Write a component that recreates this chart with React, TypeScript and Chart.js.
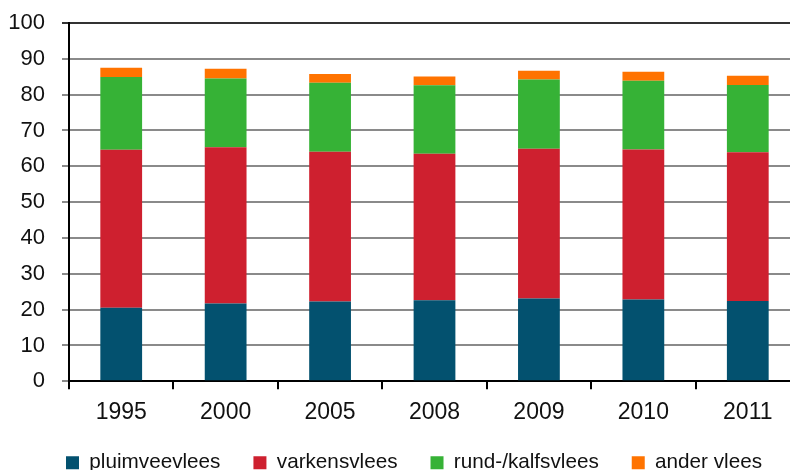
import React, { useEffect, useRef } from "react";
import { Chart, registerables } from "chart.js";

Chart.register(...registerables);

const categories = ["1995", "2000", "2005", "2008", "2009", "2010", "2011"];
const pluimvee = [20.5, 21.7, 22.3, 22.6, 23.1, 22.8, 22.4];
const varkens = [44.1, 43.6, 41.8, 40.9, 41.8, 41.9, 41.5];
const rundKalf = [20.3, 19.2, 19.2, 19.1, 19.3, 19.2, 18.8];
const ander = [2.6, 2.7, 2.5, 2.5, 2.5, 2.5, 2.6];
const yTicks = [0, 10, 20, 30, 40, 50, 60, 70, 80, 90, 100];

const FONT = "'Liberation Sans', Arial, sans-serif";

const legendShift = {
  id: "legendShift",
  afterLayout(chart: any) {
    if (chart.legend) {
      chart.legend.left += 33;
      chart.legend.right += 33;
    }
  },
};

export default function App() {
  const ref = useRef<HTMLCanvasElement | null>(null);

  useEffect(() => {
    document.body.style.margin = "0";
    document.body.style.overflow = "hidden";
    const canvas = ref.current!;
    const mk = (label: string, data: number[], color: string) => ({
      label,
      data,
      backgroundColor: color,
      borderWidth: 0,
      barPercentage: 0.4,
      categoryPercentage: 1,
    });
    const chart = new Chart(canvas, {
      type: "bar",
      data: {
        labels: categories,
        datasets: [
          mk("pluimveevlees", pluimvee, "#03516F"),
          mk("varkensvlees", varkens, "#CE202F"),
          mk("rund-/kalfsvlees", rundKalf, "#36B236"),
          mk("ander vlees", ander, "#FF7300"),
        ],
      },
      plugins: [legendShift],
      options: {
        animation: false,
        responsive: false,
        maintainAspectRatio: false,
        layout: { padding: { top: 23, left: 0, right: 0, bottom: 0 } },
        plugins: {
          tooltip: { enabled: false },
          legend: {
            position: "bottom",
            align: "start",
            labels: {
              font: { family: FONT, size: 20.7 },
              color: "#111",
              boxWidth: 13,
              boxHeight: 13,
              padding: 33,
            },
          },
        },
        scales: {
          x: {
            stacked: true,
            offset: true,
            grid: {
              offset: true,
              drawOnChartArea: false,
              color: "#000",
              lineWidth: 2,
              tickLength: 8,
            },
            border: { color: "#000", width: 2 },
            ticks: {
              font: { family: FONT, size: 23 },
              color: "#111",
              padding: 10,
            },
            afterFit: (s: any) => {
              s.height = 38;
            },
          },
          y: {
            stacked: true,
            min: 0,
            max: 100,
            afterBuildTicks: (s: any) => {
              s.ticks = yTicks.map((v) => ({ value: v }));
            },
            grid: {
              color: (c: any) => (c.tick && c.tick.value === 100 ? "#333" : "#8a8a8a"),
              lineWidth: 2,
              tickLength: 7,
            },
            border: { color: "#000", width: 2 },
            ticks: {
              font: { family: FONT, size: 22 },
              color: "#111",
              padding: 17,
            },
            afterFit: (s: any) => {
              s.width = 69;
              s.paddingTop = 0;
              s.paddingBottom = 0;
            },
          },
        },
      },
    });
    return () => chart.destroy();
  }, []);

  return (
    <div style={{ position: "absolute", left: 0, top: 0, width: 800, height: 483 }}>
      <canvas ref={ref} width={800} height={483} style={{ display: "block" }} />
    </div>
  );
}
